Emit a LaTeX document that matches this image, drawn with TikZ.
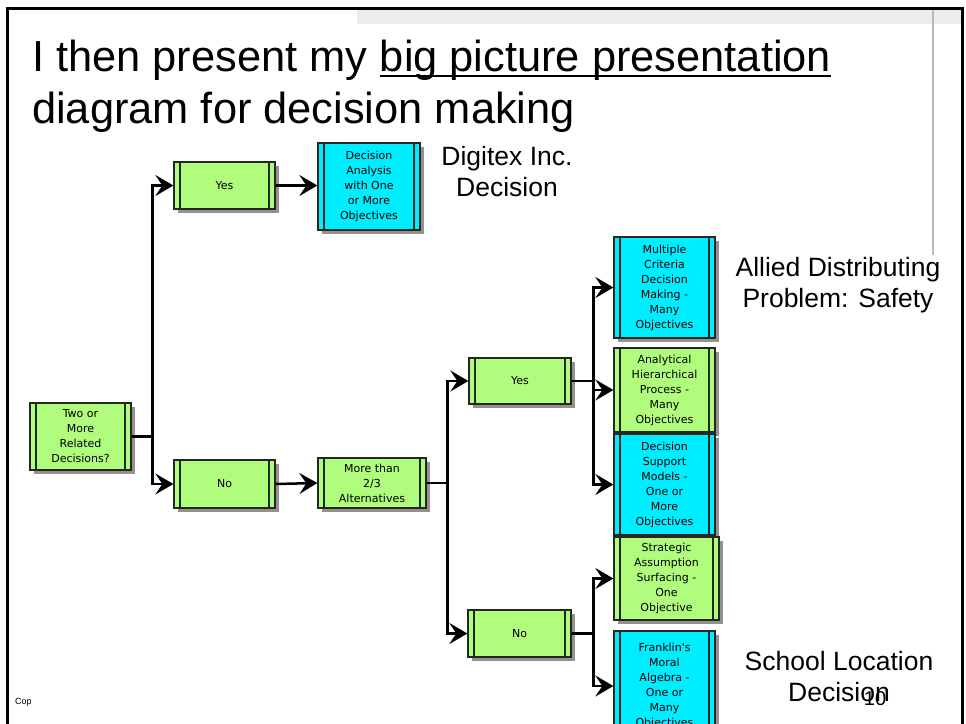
\documentclass[tikz,border=0pt]{standalone}
\usepackage{fontspec}
\setmainfont{Liberation Sans}
\newfontfamily\boxfont{DejaVu Sans}
\usetikzlibrary{arrows.meta,shadows}

\definecolor{procgreen}{RGB}{176,252,124}
\definecolor{proccyan}{RGB}{0,236,255}
\definecolor{procline}{RGB}{35,40,35}
\definecolor{shadowgray}{RGB}{150,144,144}
\definecolor{bandgray}{RGB}{236,236,236}

\tikzset{
  procbox/.style={
    draw=procline, line width=1.3pt, inner sep=0pt, align=center,
    font=\boxfont\fontsize{11}{15}\selectfont,
    drop shadow={shadow xshift=4pt, shadow yshift=-4pt, fill=shadowgray, opacity=1},
    path picture={
      \draw[procline, line width=1.2pt]
        ([xshift=6pt]path picture bounding box.south west) --
        ([xshift=6pt]path picture bounding box.north west)
        ([xshift=-6pt]path picture bounding box.south east) --
        ([xshift=-6pt]path picture bounding box.north east);
    }},
  greenbox/.style={procbox, fill=procgreen},
  cyanbox/.style={procbox, fill=proccyan},
  flow/.style={line width=2.5pt, line join=miter,
    -{Stealth[length=18pt, width=21pt, inset=7pt]}},
  link/.style={line width=2.5pt},
  headline/.style={inner sep=0pt, font=\fontsize{43.4}{52}\selectfont},
  caption/.style={align=center, font=\fontsize{26.5}{31}\selectfont}
}

\begin{document}
\begin{tikzpicture}[x=1pt, y=-1pt]
\useasboundingbox (0,0) rectangle (966,723);
\clip (0,0) rectangle (966,723);

% slide frame, header band and margin rule
\fill[bandgray] (357,10) rectangle (961,24);
\draw[line width=3pt] (7,740) -- (7,8.5) -- (962.5,8.5) -- (962.5,740);
\draw[gray!55, line width=1.3pt] (933,10) -- (933,255);

% heading, with the underlined phrase set as its own node
\node[headline, anchor=base west] (head1a) at (32,71) {I then present my};
\node[headline, anchor=base west] (head1b) at ([xshift=12pt]head1a.base east) {big picture presentation};
\draw[line width=2.5pt] ([yshift=-5pt]head1b.base west) -- ([yshift=-5pt]head1b.base east);
\node[headline, anchor=base west] (head2) at (32,123) {diagram for decision making};

% decision tree boxes
\node[greenbox, minimum width=101pt, minimum height=67pt] (q) at (80.5,436.5)
  {Two or\\More\\Related\\Decisions?};
\node[greenbox, minimum width=101pt, minimum height=47pt] (yes1) at (224.5,185.5) {Yes};
\node[cyanbox, minimum width=102pt, minimum height=87pt] (da) at (369,186.5)
  {Decision\\Analysis\\with One\\or More\\Objectives};
\node[greenbox, minimum width=101pt, minimum height=48pt] (no1) at (224.5,484) {No};
\node[greenbox, minimum width=108pt, minimum height=50pt] (mt) at (372,483)
  {More than\\2/3\\Alternatives};
\node[greenbox, minimum width=102pt, minimum height=46pt] (yes2) at (520,381) {Yes};
\node[greenbox, minimum width=103pt, minimum height=47pt] (no2) at (519.5,633.5) {No};
\node[cyanbox, minimum width=101pt, minimum height=101pt] (mc) at (664.5,287.5)
  {Multiple\\Criteria\\Decision\\Making -\\Many\\Objectives};
\node[greenbox, minimum width=101pt, minimum height=84pt] (ahp) at (664.5,390)
  {Analytical\\Hierarchical\\Process -\\Many\\Objectives};
\node[cyanbox, minimum width=101pt, minimum height=101pt] (dss) at (664.5,484.5)
  {Decision\\Support\\Models -\\One or\\More\\Objectives};
\node[greenbox, minimum width=105pt, minimum height=83pt] (sas) at (666.5,578.5)
  {Strategic\\Assumption\\Surfacing -\\One\\Objective};
\node[cyanbox, minimum width=101pt, minimum height=110pt] (fma) at (664.5,686)
  {Franklin's\\Moral\\Algebra -\\One or\\Many\\Objectives};

% connectors
\draw[link] (q.east) -- ++(21,0) coordinate (j1);
\draw[flow] (j1) |- (yes1.west);
\draw[flow] (j1) |- (no1.west);
\draw[flow] (yes1.east) -- (yes1.east -| da.west);
\draw[flow] (no1.east) -- (mt.west);

\draw[link] (mt.east) -- ++(21,0) coordinate (j2);
\draw[flow] (j2) |- (yes2.west);
\draw[flow] (j2) |- (no2.west);

\draw[link] (yes2.east) -- ++(22,0) coordinate (j3);
\draw[flow] (j3) |- (mc.west);
\draw[flow] (j3) |- (ahp.west);
\draw[flow] (j3) |- (dss.west);

\draw[link] (no2.east) -- ++(22,0) coordinate (j4);
\draw[flow] (j4) |- (sas.west);
\draw[flow] (j4) |- (fma.west);

% case study captions
\node[caption] (digitex) at (507,172) {Digitex Inc.\\Decision};
\node[caption] (allied) at (838,285) {Allied Distributing\\Problem: Safety};
\node[caption] (school) at (839,677) {School Location\\Decision};

% footer
\node[font=\fontsize{20}{24}\selectfont] (pageno) at (875,699) {10};
\begin{scope}
  \clip (0,680) rectangle (30,720);
  \node[anchor=base west, inner sep=0pt, font=\fontsize{9}{11}\selectfont] (copy) at (15,704) {Copyright};
\end{scope}
\end{tikzpicture}
\end{document}
